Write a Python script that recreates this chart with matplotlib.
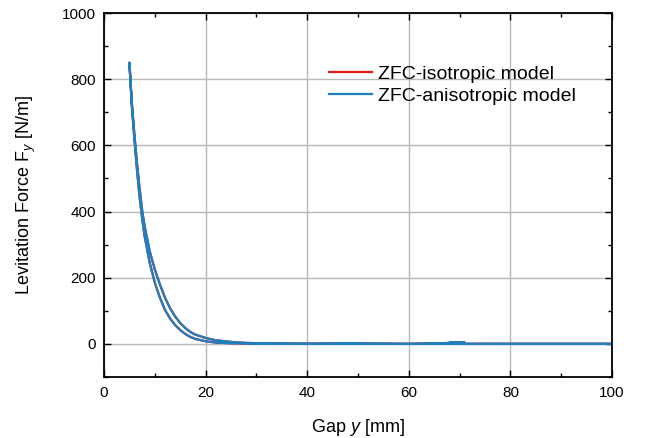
import matplotlib
matplotlib.use('Agg')
import matplotlib.pyplot as plt
from matplotlib.ticker import MultipleLocator
import numpy as np

plt.rcParams['font.family'] = ['Liberation Sans', 'DejaVu Sans']
plt.rcParams['mathtext.fontset'] = 'custom'
plt.rcParams['mathtext.rm'] = 'Liberation Sans'
plt.rcParams['mathtext.it'] = 'Liberation Sans:italic'

# approach branch (gap decreasing)
gap_down = [100, 80, 70, 68, 71, 60, 52, 48, 43, 40, 32, 28, 25, 22, 20, 18, 17, 16, 15, 14, 13, 12, 11, 10, 9, 8, 7.5, 7, 6.5, 6, 5.5, 5]
force_down = [0, 0, 0, 4, 4, 0, 1, 2, 1, 0.5, 1.5, 3, 6, 11, 18, 28, 36, 48, 63, 83, 108, 140, 180, 225, 280, 355, 405, 470, 545, 630, 725, 850]
# return branch (gap increasing)
gap_up = [5, 5.5, 6, 6.5, 7, 7.5, 8, 9, 10, 11, 12, 13, 14, 15, 16, 17, 18, 20, 22, 25, 30, 40, 60, 100]
force_up = [850, 715, 615, 525, 445, 380, 325, 245, 185, 140, 103, 77, 57, 42, 30, 21, 15, 8, 4, 2, 0.5, 0, 0, 0]

gap_iso = gap_down + gap_up
force_iso = force_down + force_up
gap_aniso = gap_down + gap_up
force_aniso = force_down + force_up

fig = plt.figure(figsize=(6.45, 4.38), dpi=100)
ax = fig.add_axes([104/645, 1-377/438, (612-104)/645, (377-13)/438])

ax.plot(gap_iso, force_iso, color='#e8141c', lw=1.6, label='ZFC-isotropic model')
ax.plot(gap_aniso, force_aniso, color='#1f7fbf', lw=1.6, label='ZFC-anisotropic model')

ax.set_xlim(0, 100)
ax.set_ylim(-100, 1000)
ax.xaxis.set_major_locator(MultipleLocator(20))
ax.xaxis.set_minor_locator(MultipleLocator(10))
ax.yaxis.set_major_locator(MultipleLocator(200))
ax.yaxis.set_minor_locator(MultipleLocator(100))
ax.tick_params(which='both', direction='in', top=True, right=True, width=1, labelsize=11)
ax.tick_params(which='major', length=5)
ax.tick_params(axis='x', which='major', pad=6.5)
ax.tick_params(axis='y', which='major', pad=6)
ax.tick_params(which='minor', length=3)
ax.grid(True, which='major', color='#b8b8b8', lw=1)
ax.set_axisbelow(True)
for s in ax.spines.values():
    s.set_linewidth(1.3)

ax.set_xlabel('Gap $y$ [mm]', fontsize=13, labelpad=12)
ax.set_ylabel('Levitation Force F$_y$ [N/m]', fontsize=13, labelpad=17)

ax.legend(loc='upper left', bbox_to_anchor=(329/645, 1-65/438), bbox_transform=fig.transFigure,
          frameon=False, fontsize=14, handlelength=2.2, handletextpad=0.3,
          labelspacing=0.25, borderpad=0, borderaxespad=0)

fig.savefig('out.png', dpi=100)
